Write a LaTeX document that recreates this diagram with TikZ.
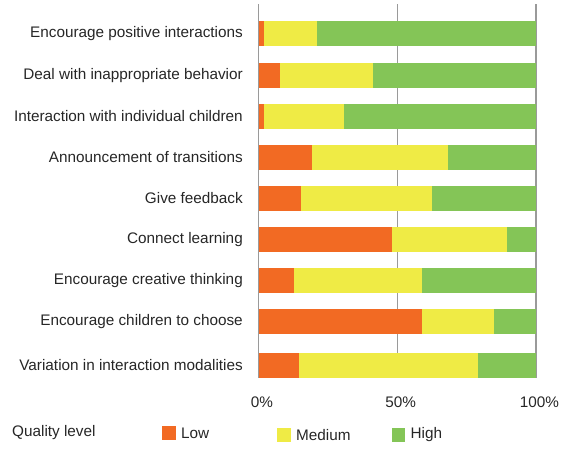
\documentclass[tikz,border=0pt]{standalone}
\usepackage{fontspec}
\setmainfont{Liberation Sans}
\usetikzlibrary{positioning}
\definecolor{lowc}{HTML}{F26A23}
\definecolor{medc}{HTML}{EFEB45}
\definecolor{highc}{HTML}{84C557}
\definecolor{gridc}{HTML}{9A9A9A}
\tikzset{
  lbl/.style={anchor=east, inner sep=0pt, font=\fontsize{15.3}{18}\selectfont, text=black!85},
  tick/.style={anchor=center, inner sep=0pt, font=\fontsize{15.3}{18}\selectfont, text=black!85},
  swatch/.style={minimum size=13.5pt, inner sep=0pt},
  gridline/.style={gridc, line width=1.2pt}
}
\newcommand{\pct}[1]{258.5+2.775*#1}
\begin{document}
\begin{tikzpicture}[x=1pt,y=-1pt]
   \useasboundingbox (0,0) rectangle (572,448);

   % grid
   \foreach \p/\name in {0/g0,50/g50,100/g100}{
      \coordinate (\name top) at ({\pct{\p}},4);
      \coordinate (\name bot) at ({\pct{\p}},378);
      \draw[gridline] (\name top) -- (\name bot);
      \node[tick] (t\name) at ({\pct{\p}+3.5},402) {\p\%};
   }

   % bars
   \foreach \i/\yc/\lo/\me/\txt in {
      1/33.5/2/21/Encourage positive interactions,
      2/75.5/7.8/41.3/Deal with inappropriate behavior,
      3/116.5/2/30.9/Interaction with individual children,
      4/157.5/19.3/68.3/Announcement of transitions,
      5/198.5/15.4/62.5/Give feedback,
      6/239.5/48.1/89.5/Connect learning,
      7/280.5/12.9/58.9/Encourage creative thinking,
      8/321.5/58.9/84.9/Encourage children to choose,
      9/365.5/14.7/79.1/Variation in interaction modalities}{
      \fill[lowc]  ({\pct{0}},\yc-12.5) rectangle ({\pct{\lo}},\yc+12.5);
      \fill[medc]  ({\pct{\lo}},\yc-12.5) rectangle ({\pct{\me}},\yc+12.5);
      \fill[highc] ({\pct{\me}},\yc-12.5) rectangle ({\pct{100}},\yc+12.5);
      \node[lbl] (cat\i) at (243,\yc) {\txt};
   }

   % legend
   \node[lbl, anchor=west] (qual) at (12,433) {Quality level};
   \node[swatch, fill=lowc] (swlow) at (169,432.8) {};
   \node[lbl, anchor=west, right=5pt of swlow] (txlow) {Low};
   \node[swatch, fill=medc] (swmed) at (284,435) {};
   \node[lbl, anchor=west, right=5pt of swmed] (txmed) {Medium};
   \node[swatch, fill=highc] (swhigh) at (398.5,435) {};
   \node[lbl, anchor=west, right=5pt of swhigh] (txhigh) {High};
\end{tikzpicture}
\end{document}
